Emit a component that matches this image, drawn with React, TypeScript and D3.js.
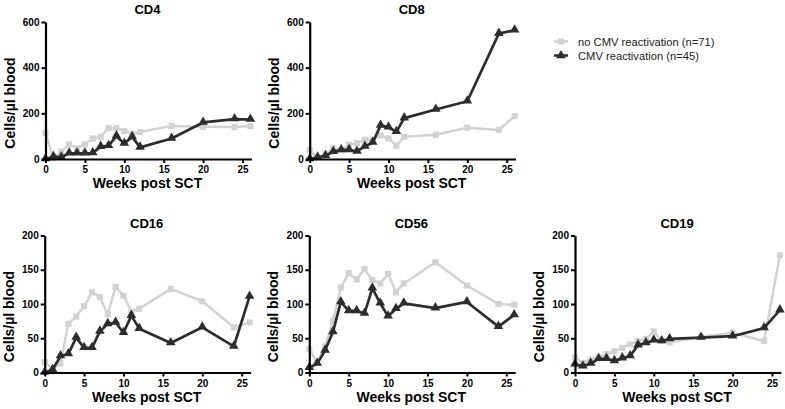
import React, { useEffect, useRef } from 'react';
import * as d3 from 'd3';

const weeks = [0, 1, 2, 3, 4, 5, 6, 7, 8, 9, 10, 11, 12, 16, 20, 24, 26];

const cd4NoCmv = [115, 3, 32, 64, 47, 64, 90, 97, 135, 135, 122, 110, 118, 145, 141, 140, 144];
const cd4Cmv = [0, 10, 7, 25, 25, 25, 26, 54, 58, 100, 68, 97, 51, 90, 160, 175, 173];

const cd8NoCmv = [39, 7, 22, 48, 40, 62, 69, 84, 85, 104, 90, 58, 97, 106, 137, 127, 188];
const cd8Cmv = [0, 7, 14, 32, 39, 40, 33, 55, 72, 147, 139, 119, 179, 217, 253, 549, 564];

const cd16NoCmv = [15, 6, 13, 71, 82, 97, 117, 110, 85, 125, 112, 89, 93, 122, 104, 66, 73];
const cd16Cmv = [0, 4, 24, 27, 51, 36, 36, 60, 71, 73, 58, 83, 64, 43, 66, 38, 111];

const cd56NoCmv = [34, 14, 38, 75, 124, 145, 136, 151, 135, 130, 144, 117, 130, 161, 127, 100, 99];
const cd56Cmv = [7, 13, 32, 59, 103, 90, 90, 86, 123, 101, 82, 93, 101, 94, 103, 67, 84];

const cd19NoCmv = [22, 14, 19, 22, 27, 31, 36, 41, 46, 49, 60, 46, 44, 52, 58, 46, 171];
const cd19Cmv = [12, 9, 13, 20, 20, 17, 21, 24, 40, 43, 47, 46, 49, 51, 53, 65, 91];

const xTicks = [0, 5, 10, 15, 20, 25];
const yTicksTop = [0, 200, 400, 600];
const yTicksBottom = [0, 50, 100, 150, 200];

const seriesNames = ['no CMV reactivation (n=71)', 'CMV reactivation (n=45)'];

const panels = [
  { title: 'CD4', a: cd4NoCmv, b: cd4Cmv, yMax: 600, yTicks: yTicksTop, x0: 45.5, y0: 159, yTop: 22 },
  { title: 'CD8', a: cd8NoCmv, b: cd8Cmv, yMax: 600, yTicks: yTicksTop, x0: 309.7, y0: 159, yTop: 22 },
  { title: 'CD16', a: cd16NoCmv, b: cd16Cmv, yMax: 200, yTicks: yTicksBottom, x0: 44.7, y0: 372.5, yTop: 235.5 },
  { title: 'CD56', a: cd56NoCmv, b: cd56Cmv, yMax: 200, yTicks: yTicksBottom, x0: 309.3, y0: 372.5, yTop: 235.5 },
  { title: 'CD19', a: cd19NoCmv, b: cd19Cmv, yMax: 200, yTicks: yTicksBottom, x0: 575, y0: 372.5, yTop: 235.5 },
];

const GRAY = '#d2d2d2';
const DARK = '#2d2d2d';
const FONT = 'Liberation Sans, Arial, sans-serif';

const App = () => {
  const ref = useRef(null);

  useEffect(() => {
    document.body.style.margin = '0';
    const svg = d3.select(ref.current);
    svg.selectAll('*').remove();
    svg.append('rect').attr('width', 785).attr('height', 409).attr('fill', '#fff');

    const sq = d3.symbol().type(d3.symbolSquare).size(38);
    const tri = d3.symbol().type(d3.symbolTriangle).size(40);

    panels.forEach(p => {
      const x = d3.scaleLinear().domain([0, 25]).range([p.x0, p.x0 + 197]);
      const y = d3.scaleLinear().domain([0, p.yMax]).range([p.y0, p.yTop]);
      const g = svg.append('g');

      const line = d3.line<number>()
        .x((d, i) => x(weeks[i]))
        .y(d => y(d));

      // gray series
      g.append('path').attr('d', line(p.a)).attr('fill', 'none')
        .attr('stroke', GRAY).attr('stroke-width', 2.5).attr('stroke-linejoin', 'round');
      g.selectAll('.sq').data(p.a).enter().append('path')
        .attr('d', sq)
        .attr('transform', (d, i) => `translate(${x(weeks[i])},${y(d)})`)
        .attr('fill', GRAY);

      // dark series
      g.append('path').attr('d', line(p.b)).attr('fill', 'none')
        .attr('stroke', DARK).attr('stroke-width', 2.7).attr('stroke-linejoin', 'round');
      g.selectAll('.tri').data(p.b).enter().append('path')
        .attr('d', tri)
        .attr('transform', (d, i) => `translate(${x(weeks[i])},${y(d) - 0.5})`)
        .attr('fill', DARK);

      // axes
      const xAxis = g.append('g').attr('transform', `translate(0,${p.y0})`)
        .call(d3.axisBottom(x).tickValues(xTicks).tickSize(4).tickSizeOuter(0).tickPadding(3));
      xAxis.select('.domain').attr('d', `M${p.x0 - 1},0.5H${x(26) + 1.5}`);
      const yAxis = g.append('g').attr('transform', `translate(${p.x0},0)`)
        .call(d3.axisLeft(y).tickValues(p.yTicks).tickSize(4).tickSizeOuter(0).tickPadding(2));
      [xAxis, yAxis].forEach(ax => {
        ax.select('.domain').attr('stroke', '#000').attr('stroke-width', 2.2);
        ax.selectAll('.tick line').attr('stroke', '#000').attr('stroke-width', 2);
        ax.selectAll('.tick text').attr('fill', '#000')
          .style('font-family', FONT).style('font-size', '10px').style('font-weight', 'bold');
      });

      const cx = p.x0 + 102;
      g.append('text').attr('x', cx).attr('y', p.yTop - 8).attr('text-anchor', 'middle')
        .style('font-family', FONT).style('font-size', '13px').style('font-weight', 'bold')
        .text(p.title);
      g.append('text').attr('x', cx).attr('y', p.y0 + 29).attr('text-anchor', 'middle')
        .style('font-family', FONT).style('font-size', '14px').style('font-weight', 'bold')
        .text('Weeks post SCT');
      g.append('text')
        .attr('transform', `translate(${p.x0 - 31},${p.y0 - 56}) rotate(-90)`)
        .attr('text-anchor', 'middle')
        .style('font-family', FONT).style('font-size', '14px').style('font-weight', 'bold')
        .text('Cells/µl blood');
    });

    // legend
    const legend = svg.append('g').attr('transform', 'translate(554,41.5)');
    seriesNames.forEach((name, i) => {
      const row = legend.append('g').attr('transform', `translate(0,${i * 14})`);
      const c = i === 0 ? GRAY : DARK;
      row.append('line').attr('x1', 0).attr('x2', 14).attr('stroke', c).attr('stroke-width', 2.5);
      row.append('path').attr('d', i === 0 ? sq : tri).attr('transform', 'translate(7,0)').attr('fill', c);
      row.append('text').attr('x', 24).attr('y', 4).style('font-family', FONT)
        .style('font-size', '11.2px').attr('fill', '#222').text(name);
    });
  }, []);

  return <svg ref={ref} width={785} height={409} style={{ display: 'block' }} />;
};

export default App;
